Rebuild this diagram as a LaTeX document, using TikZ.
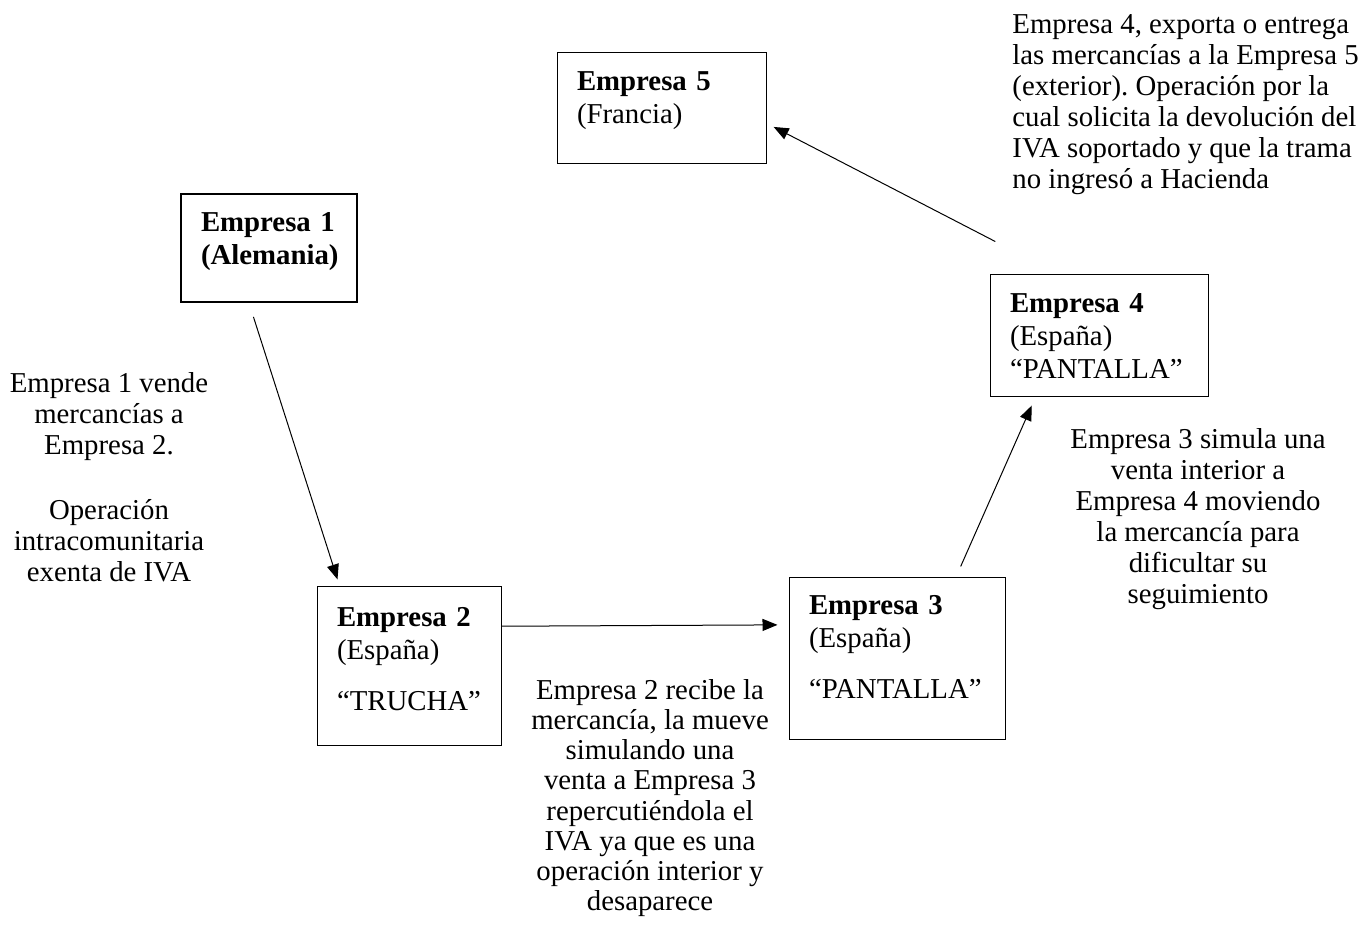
\documentclass[tikz,border=0pt]{standalone}
\usepackage{fontspec}
\setmainfont{Liberation Serif}
\usetikzlibrary{arrows.meta}
\frenchspacing

\tikzset{
    empresa/.style={draw, line width=0.5pt, align=left, inner xsep=10pt, inner ysep=0pt,
        font=\fontsize{14.4}{16.5}\selectfont},
    nota/.style={inner sep=0pt, font=\fontsize{14.4}{15.5}\selectfont},
    flujo/.style={-{Triangle[length=7.5pt,width=6pt]}, line width=0.5pt}
}

\begin{document}
\begin{tikzpicture}[x=0.5pt, y=-0.5pt]
    \useasboundingbox (0,0) rectangle (1358,929);

    % Empresas
    \node[empresa, line width=1pt, text width=68pt, minimum height=54pt, text depth=25.6pt] (e1) at (269,248)
        {\textbf{Empresa 1}\\\textbf{(Alemania)}};
    \node[empresa, text width=72pt, minimum height=79.5pt, text depth=49pt] (e2) at (409,665.5)
        {\textbf{Empresa 2}\\(España)\\[9pt]“TRUCHA”};
    \node[empresa, text width=88pt, minimum height=81pt, text depth=53pt] (e3) at (897,658)
        {\textbf{Empresa 3}\\(España)\\[9pt]“PANTALLA”};
    \node[empresa, text width=89pt, minimum height=61pt] (e4) at (1099,336)
        {\textbf{Empresa 4}\\(España)\\“PANTALLA”};
    \node[empresa, text width=84.5pt, minimum height=55.5pt, text depth=27.6pt] (e5) at (661.5,108.5)
        {\textbf{Empresa 5}\\(Francia)};

    % Flechas
    \draw[flujo, shorten <=7.3pt, shorten >=3.2pt] (e1.250) -- (e2.131);
    \draw[flujo, shorten >=5.5pt] (e2.23) -- (e3.163);
    \draw[flujo, shorten <=5.5pt, shorten >=4.4pt] (e3.54) -- (e4.224);
    \draw[flujo, shorten <=35.9pt, shorten >=4pt] (e4.123.5) -- (e5.352);

    % Textos explicativos
    \node[nota, align=center] (t1) at (109,477)
        {Empresa 1 vende\\mercancías a\\Empresa 2.\\[17pt]Operación\\intracomunitaria\\exenta de IVA};
    \node[nota, align=center, font=\fontsize{14.4}{15.1}\selectfont] (t2) at (650,798)
        {Empresa 2 recibe la\\mercancía, la mueve\\simulando una\\venta a Empresa 3\\repercutiéndola el\\IVA ya que es una\\operación interior y\\desaparece};
    \node[nota, align=center] (t3) at (1198,519)
        {Empresa 3 simula una\\venta interior a\\Empresa 4 moviendo\\la mercancía para\\dificultar su\\seguimiento};
    \node[nota, align=left, anchor=west] (t4) at (1012,105)
        {Empresa 4, exporta o entrega\\las mercancías a la Empresa 5\\(exterior). Operación por la\\cual solicita la devolución del\\IVA soportado y que la trama\\no ingresó a Hacienda};
\end{tikzpicture}
\end{document}
